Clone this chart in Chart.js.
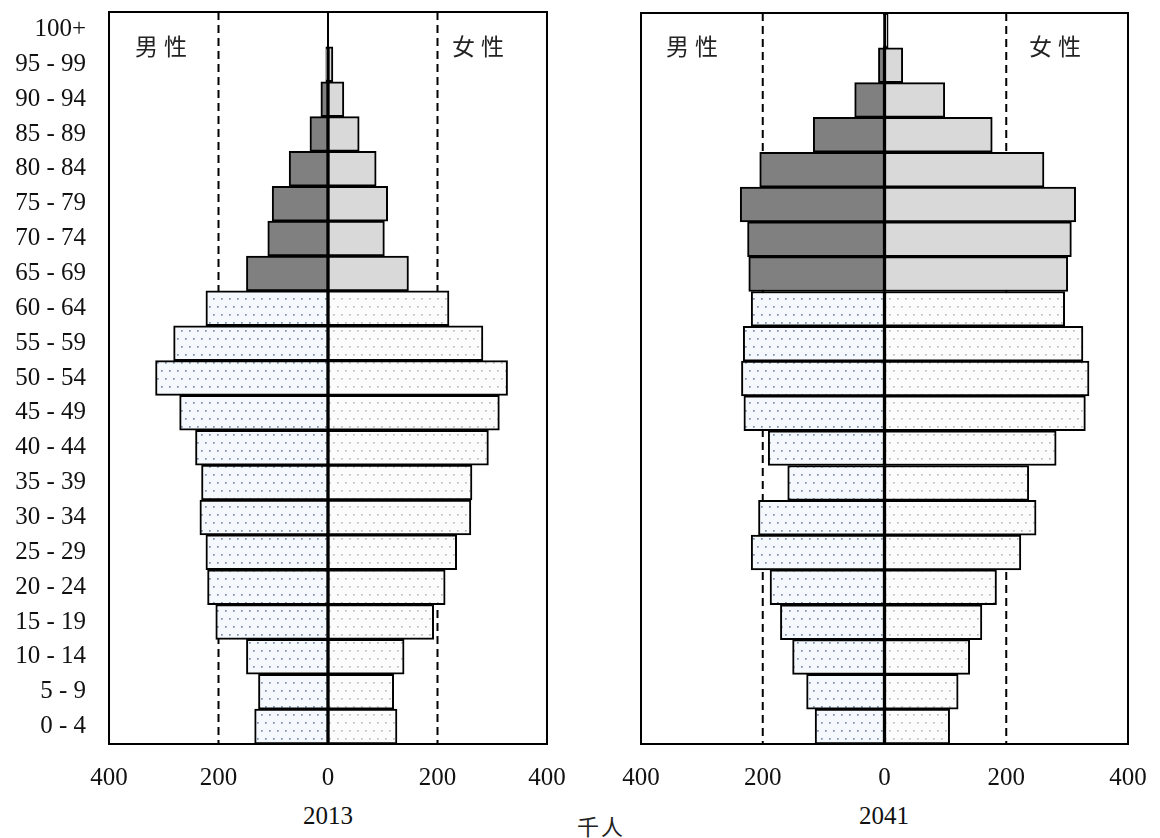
<!DOCTYPE html>
<html>
<head>
<meta charset="utf-8">
<script src="https://cdn.jsdelivr.net/npm/chart.js@4"></script>
<style>
  html,body{margin:0;padding:0;background:#fff;width:1160px;height:838px;overflow:hidden;position:relative;}
  canvas{position:absolute;top:0;}
  .t{position:absolute;font-family:"Liberation Serif","DejaVu Serif",serif;font-size:25px;color:#111;transform:translate(-50%,-50%);white-space:nowrap;}
  .c{position:absolute;font-family:"Noto Sans CJK TC","Noto Sans CJK SC",sans-serif;font-size:23px;color:#222;letter-spacing:6px;transform:translate(-50%,-50%);white-space:nowrap;}
</style>
</head>
<body>
<canvas id="c1" style="left:0px;width:580px;height:800px" width="580" height="800"></canvas>
<canvas id="c2" style="left:620px;width:540px;height:800px" width="540" height="800"></canvas>
<div class="c" style="left:164px;top:45px">男性</div>
<div class="c" style="left:481px;top:45px">女性</div>
<div class="c" style="left:695px;top:45px">男性</div>
<div class="c" style="left:1058px;top:45px">女性</div>
<div class="t" style="left:328px;top:816px">2013</div>
<div class="t" style="left:884px;top:816px">2041</div>
<div class="c" style="left:601px;top:825px;font-size:22px;letter-spacing:2px">千人</div>
<script>
// age groups, bottom to top
const ageGroups = ["0 - 4","5 - 9","10 - 14","15 - 19","20 - 24","25 - 29","30 - 34","35 - 39","40 - 44","45 - 49","50 - 54","55 - 59","60 - 64","65 - 69","70 - 74","75 - 79","80 - 84","85 - 89","90 - 94","95 - 99","100+"];
// thousand persons
const male2013   = [134,127,149,205,220,223,234,231,242,271,315,282,223,149,110,102,71,33,13,4,1];
const female2013 = [126,120,139,193,214,235,261,263,293,313,328,283,221,147,103,109,88,57,29,9,1];
const male2041   = [114,128,151,171,188,219,207,159,191,231,235,232,219,223,225,237,205,117,49,10,2];
const female2041 = [107,121,140,160,184,224,249,237,282,330,336,326,296,301,307,314,262,177,99,30,6];
const xTicks = [-400,-200,0,200,400];
const refLines = [-200,200];
const elderlyStart = 13; // index of "65 - 69"

function makePattern(bg, dot){
  const c = document.createElement('canvas'); c.width = 8; c.height = 16;
  const g = c.getContext('2d');
  g.fillStyle = bg; g.fillRect(0,0,8,16);
  g.fillStyle = dot;
  g.fillRect(1,2,1.7,1.7); g.fillRect(5,10,1.7,1.7);
  return g.createPattern(c,'repeat');
}
const malePat = makePattern('#f5f8fc', '#7a90ab');
const femalePat = makePattern('#fcfcfc', '#bdbdbd');
const maleSolid = '#808080';
const femaleSolid = '#d9d9d9';

const serif = "'Liberation Serif','DejaVu Serif',serif";

const framePlugin = {
  id:'frame',
  beforeDatasetsDraw(chart){
    const ctx = chart.ctx, a = chart.chartArea, xs = chart.scales.x;
    ctx.save();
    ctx.strokeStyle = '#000'; ctx.lineWidth = 2; ctx.setLineDash([8,5]);
    refLines.forEach(v=>{
      const px = xs.getPixelForValue(v);
      ctx.beginPath(); ctx.moveTo(px, a.top); ctx.lineTo(px, a.bottom); ctx.stroke();
    });
    ctx.restore();
  },
  afterDatasetsDraw(chart){
    const ctx = chart.ctx, a = chart.chartArea, xs = chart.scales.x;
    ctx.save();
    ctx.strokeStyle = '#000'; ctx.lineWidth = 2; ctx.setLineDash([]);
    const px = xs.getPixelForValue(0);
    ctx.beginPath(); ctx.moveTo(px, a.top); ctx.lineTo(px, a.bottom); ctx.stroke();
    ctx.strokeRect(a.left, a.top, a.right - a.left, a.bottom - a.top);
    ctx.restore();
  }
};

function build(id, male, female, showY, pad){
  const mColors = ageGroups.map((_,i)=> i>=elderlyStart ? maleSolid : malePat);
  const fColors = ageGroups.map((_,i)=> i>=elderlyStart ? femaleSolid : femalePat);
  new Chart(document.getElementById(id), {
    type:'bar',
    data:{
      labels: ageGroups,
      datasets:[
        {label:'男性', data: male.map(v=>-v), backgroundColor:mColors, borderColor:'#000', borderWidth:2, borderSkipped:false, barPercentage:1, categoryPercentage:1},
        {label:'女性', data: female.slice(), backgroundColor:fColors, borderColor:'#000', borderWidth:2, borderSkipped:false, barPercentage:1, categoryPercentage:1}
      ]
    },
    options:{
      indexAxis:'y',
      responsive:false,
      animation:false,
      layout:{padding:pad},
      plugins:{legend:{display:false}, tooltip:{enabled:false}},
      scales:{
        x:{
          stacked:true, min:-400, max:400,
          afterBuildTicks(s){ s.ticks = xTicks.map(v=>({value:v})); },
          afterFit(s){ s.height = 56; s.paddingLeft = 0; s.paddingRight = 0; s.paddingTop = 0; s.paddingBottom = 0; },
          grid:{display:false, drawTicks:false},
          border:{display:false},
          ticks:{padding:19, color:'#111', font:{family:serif, size:25}, callback:v=>String(Math.abs(v)), maxRotation:0, autoSkip:false}
        },
        y:{
          stacked:true, reverse:true,
          display: showY,
          afterFit(s){ if(showY) s.width = 109; s.paddingTop = 0; s.paddingBottom = 0; s.paddingLeft = 0; s.paddingRight = 0; },
          grid:{display:false, drawTicks:false},
          border:{display:false},
          ticks:{padding:23, color:'#111', font:{family:serif, size:25}, autoSkip:false}
        }
      }
    },
    plugins:[framePlugin]
  });
}
build('c1', male2013, female2013, true, {top:12, left:0, right:33, bottom:0});
build('c2', male2041, female2041, false, {top:13, left:21, right:32, bottom:0});
</script>
</body>
</html>
